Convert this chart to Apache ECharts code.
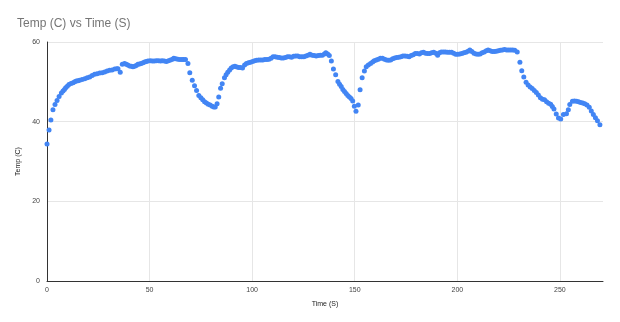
<!DOCTYPE html>
<html>
<head>
<meta charset="utf-8">
<script src="https://cdn.jsdelivr.net/npm/echarts@6/dist/echarts.min.js"></script>
<style>
html,body{margin:0;padding:0;background:#fff;}
#c{width:620px;height:322px;}
</style>
</head>
<body>
<div id="c"></div>
<script>
var chartTitle = "Temp (C) vs Time (S)";
var xName = "Time (S)";
var yName = "Temp (C)";
var xTicks = [0, 50, 100, 150, 200, 250];
var yTicks = [0, 20, 40, 60];

var timeS = [
  0, 1, 1.9, 2.9, 3.9, 4.9, 5.9, 7, 7.8, 8.5, 9.1, 9.9, 10.7, 11.7, 12.7, 13.5, 14.3, 15.1, 15.9, 17.1, 18.4, 19.6, 20.8, 22, 23.2, 24.4, 25.7, 26.9, 28.1, 29.3, 30.5, 31.7, 33, 34, 34.6, 35.7, 36.7, 37.8, 38.6, 39.4, 40.3, 41.1, 41.9, 42.7, 43.5, 44.3, 45.1, 45.9, 46.8, 47.6, 48.4, 49.2, 50.3, 51.3, 52.3, 53.3, 54.3, 55.3, 56.2, 57.2, 58.2, 59.2, 60.2, 61.2, 61.8, 62.8, 63.8, 64.8, 65.8, 66.6, 67.5,
  68.7, 69.6, 70.8, 71.9, 72.9, 74, 75, 75.9, 76.8, 77.7, 78.6, 79.5, 80.5, 81.3, 82, 82.9, 83.7, 84.6, 85.4, 86.5, 87.3, 88.1, 89, 89.8, 90.7, 91.6, 92.6, 93.5, 94.4, 95.3, 96.3, 97.2, 98.2, 99.2, 100.2, 101.2, 102.2, 103.2, 104.2, 105.2, 106.2, 107.2, 108.2, 109.2, 110.2, 111.2, 112.2, 113.2, 114.2, 115.2, 116.2, 117.2, 118.2, 119.2, 120.2, 121.2, 122.2, 123.2, 124.2, 125.2, 126.2, 127.2, 128.2, 129.2, 130.2, 131.2, 132.2, 133.2, 134.2, 135.2, 135.9, 136.8, 137.6,
  138.6, 139.6, 140.7, 141.8, 142.6, 143.4, 144.2, 145, 145.8, 146.6, 147.4, 148.2, 149, 149.8, 150.6, 151.7, 152.6, 153.6, 154.7, 155.6, 156.6, 157.7, 158.7, 159.5, 160.5, 161.5, 162.5, 163.5, 164.5, 165.5, 166.5, 167.5, 168.5, 169.5, 170.5, 171.5, 172.5, 173.5, 174.5, 175.5, 176.5, 177.5, 178.5, 179.5, 180.5, 181.5, 182.5, 183.5, 184.5, 185.5, 186.5, 187.5, 188.5, 189.5, 190.4, 191.3, 192.2, 193.2, 194.2, 195.2, 196.2, 197.2, 198.2, 199.2, 200.2, 201.2, 202.2, 203.2, 204.2, 205.2, 206.1, 207.1, 208.1, 209.1, 210.1, 211.1, 212.1, 213.1, 214.1, 215, 216, 217, 218, 219, 220, 221, 222, 223, 224, 225, 226, 227, 228, 229.2,
  230.5, 231.4, 232.4, 233.5, 234.5, 235.5, 236.5, 237.5, 238.5, 239.5, 240.5, 241.5, 242.5, 243.5, 244.5, 245.5, 246.3, 247.1, 248.2, 249.3, 250.4, 251.7, 253.2, 254.1, 254.8, 256.1, 257.1, 258.1, 259.1, 260.1, 261.1, 262.1, 263.2, 264.3, 265.3, 266.3, 267.3, 268.3, 269.5
];

var tempC = [
  34.4, 37.9, 40.4, 43.0, 44.3, 45.3, 46.3, 47.2, 47.7, 48.1, 48.5, 48.9, 49.3, 49.6, 49.8, 50.0, 50.2, 50.3, 50.4, 50.6, 50.8, 51.0, 51.2, 51.6, 51.9, 52.0, 52.2, 52.3, 52.5, 52.7, 52.9, 53.0, 53.2, 53.3, 53.3, 52.4, 54.4, 54.6, 54.4, 54.2, 54.0, 53.9, 53.8, 53.9, 54.1, 54.4, 54.5, 54.6, 54.8, 55.0, 55.1, 55.2, 55.3, 55.2, 55.2, 55.3, 55.3, 55.2, 55.3, 55.2, 55.1, 55.3, 55.5, 55.7, 55.9, 55.8, 55.7, 55.6, 55.6, 55.6, 55.6,
  54.6, 52.3, 50.4, 49.0, 47.8, 46.6, 46.0, 45.5, 45.0, 44.7, 44.4, 44.2, 43.9, 43.7, 43.7, 44.5, 46.2, 48.4, 49.5, 51.0, 51.8, 52.4, 53.0, 53.5, 53.8, 53.9, 53.7, 53.6, 53.6, 53.5, 54.2, 54.6, 54.8, 54.9, 55.1, 55.3, 55.4, 55.5, 55.5, 55.5, 55.6, 55.6, 55.7, 55.9, 56.3, 56.3, 56.2, 56.1, 56.0, 56.0, 56.1, 56.3, 56.3, 56.2, 56.4, 56.5, 56.5, 56.3, 56.3, 56.3, 56.5, 56.7, 56.9, 56.7, 56.6, 56.5, 56.6, 56.7, 56.7, 57.0, 57.3, 57.0, 56.6,
  55.2, 53.2, 51.8, 50.1, 49.4, 48.8, 48.1, 47.6, 47.1, 46.6, 46.2, 45.8, 45.2, 43.9, 42.6, 44.2, 48.0, 51.0, 52.7, 53.8, 54.2, 54.6, 55.0, 55.3, 55.5, 55.7, 55.9, 55.9, 55.7, 55.5, 55.4, 55.5, 55.8, 56.0, 56.1, 56.2, 56.3, 56.5, 56.5, 56.4, 56.3, 56.6, 56.8, 57.1, 57.1, 57.0, 57.3, 57.4, 57.2, 57.1, 57.1, 57.3, 57.4, 57.2, 56.7, 57.3, 57.5, 57.5, 57.5, 57.4, 57.4, 57.4, 57.2, 56.9, 56.9, 57.0, 57.1, 57.3, 57.4, 57.7, 58.0, 57.6, 57.2, 57.0, 56.9, 57.0, 57.3, 57.5, 57.8, 58.0, 57.8, 57.6, 57.6, 57.7, 57.8, 57.9, 58.0, 58.1, 58.0, 58.0, 58.0, 58.0, 57.9, 57.5,
  54.9, 52.8, 51.2, 49.9, 49.2, 48.7, 48.3, 47.8, 47.3, 46.7, 46.0, 45.6, 45.5, 45.0, 44.6, 44.4, 43.8, 43.2, 41.9, 40.9, 40.7, 41.8, 42.0, 43.0, 44.3, 45.1, 45.2, 45.1, 45.0, 44.8, 44.7, 44.5, 44.2, 43.6, 42.7, 41.8, 41.0, 40.2, 39.2
];

var points = timeS.map(function (t, i) { return [t, tempC[i]]; });
var vGrid = xTicks.filter(function (v) { return v > 0; }).map(function (v) { return {xAxis: v}; });

var chart = echarts.init(document.getElementById('c'), null, {renderer: 'canvas'});
var font = 'Arial, "Liberation Sans", sans-serif';
chart.setOption({
  animation: false,
  backgroundColor: '#ffffff',
  title: {
    text: chartTitle,
    left: 12,
    top: 13,
    textStyle: {color: '#757575', fontSize: 12, fontWeight: 'normal', fontFamily: font}
  },
  grid: {left: 47, right: 17, top: 42, bottom: 41, containLabel: false},
  xAxis: {
    type: 'value',
    min: 0,
    max: 271,
    interval: 50,
    name: xName,
    nameLocation: 'middle',
    nameGap: 20,
    nameTextStyle: {color: '#222', fontSize: 7, fontFamily: font},
    axisLine: {show: true, onZero: false, lineStyle: {color: '#333', width: 1}},
    axisTick: {show: false},
    axisLabel: {color: '#444', fontSize: 7, fontFamily: font, margin: 6, showMaxLabel: false},
    splitLine: {show: false}
  },
  yAxis: {
    type: 'value',
    min: 0,
    max: 60,
    interval: 20,
    name: yName,
    nameLocation: 'middle',
    nameGap: 22,
    nameTextStyle: {color: '#222', fontSize: 7, fontFamily: font},
    axisLine: {show: true, lineStyle: {color: '#333', width: 1}},
    axisTick: {show: false},
    axisLabel: {color: '#444', fontSize: 7, fontFamily: font, margin: 7},
    splitLine: {show: true, lineStyle: {color: '#e6e6e6', width: 1}}
  },
  series: [{
    type: 'scatter',
    data: [],
    z: 0,
    silent: true,
    markLine: {
      silent: true,
      z: 0,
      symbol: ['none', 'none'],
      label: {show: false},
      lineStyle: {color: '#e6e6e6', width: 1, type: 'solid'},
      emphasis: {disabled: true},
      data: vGrid
    }
  }, {
    type: 'scatter',
    z: 3,
    data: points,
    symbol: 'circle',
    symbolSize: 5,
    itemStyle: {color: '#4285F4', opacity: 1}
  }]
});
</script>
</body>
</html>
